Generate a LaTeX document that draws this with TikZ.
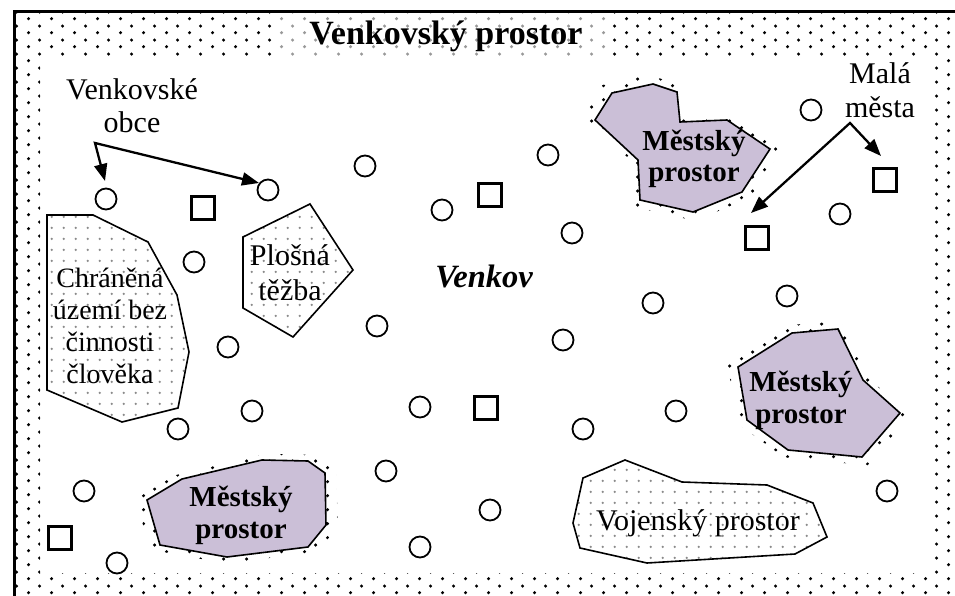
\documentclass[tikz,border=0pt]{standalone}
\usepackage{fontspec}
\setmainfont{Liberation Serif}
\usetikzlibrary{patterns,arrows.meta}
\definecolor{lav}{HTML}{CBBFD7}
\definecolor{dotgray}{HTML}{8A8A8A}
\pgfdeclarepatternformonly{banddots}{\pgfpointorigin}{\pgfpoint{23pt}{13.6pt}}{\pgfpoint{23pt}{13.6pt}}{%
 \pgfpathcircle{\pgfpoint{5.75pt}{3.4pt}}{1.75pt}%
 \pgfpathcircle{\pgfpoint{17.25pt}{10.2pt}}{1.75pt}%
 \pgfusepath{fill}}
\pgfdeclarepatternformonly{finedots}{\pgfpointorigin}{\pgfpoint{11.7pt}{11pt}}{\pgfpoint{11.7pt}{11pt}}{%
 \pgfpathcircle{\pgfpoint{5.85pt}{5.5pt}}{1.3pt}\pgfusepath{fill}}
\tikzset{
 village/.style={circle, draw, line width=1.8pt, minimum size=21pt, inner sep=0pt},
 town/.style={rectangle, draw, line width=2.4pt, minimum size=23pt, inner sep=0pt},
 natarea/.style={draw, line width=1.6pt, line join=miter, pattern=finedots, pattern color=dotgray},
 urban/.style={draw, line width=1.6pt, line join=miter, fill=lav},
 halo/.style={pattern=banddots, pattern color=black},
 ptr/.style={line width=2.3pt, line join=miter, {Triangle[length=17pt,width=13pt]}-{Triangle[length=17pt,width=13pt]}},
 txt/.style={font=\fontsize{30}{33}\selectfont, align=center, inner sep=0pt, anchor=base},
 urbtxt/.style={font=\fontsize{29}{31.5}\selectfont\bfseries, align=center, inner sep=0pt, anchor=base},
}
\begin{document}
\begin{tikzpicture}[x=1pt,y=-1pt]
\useasboundingbox (0,0) rectangle (955,596);
\fill[white] (0,0) rectangle (955,596);
% dotted border band
\fill[pattern=banddots, even odd rule] (14,11) rectangle (955,596) (40,58) rectangle (932,573);
\fill[white, opacity=0.6] (278,13) rectangle (608,57);
\draw[line width=3pt] (14.5,596) -- (14.5,11.5) -- (955,11.5);
\node[inner sep=0pt, anchor=base, font=\fontsize{34}{36}\selectfont\bfseries] (title) at (446,45) {Venkovský prostor};

% natural areas
\draw[natarea] (47,215) -- (93,215) -- (148,242) -- (177,295) -- (189,352) -- (178,408) -- (122,422) -- (47,390) -- cycle;
\draw[natarea] (243,237) -- (310,204) -- (353,270) -- (293,337) -- (243,308) -- cycle;
\draw[natarea] (583,478) -- (625,460) -- (682,482) -- (767,485) -- (813,503) -- (827,537) -- (795,554) -- (647,563) -- (580,548) -- (573,523) -- cycle;

% urban areas with halo
\fill[halo, scale around={1.14:(682,150)}] (595,120) -- (612,93) -- (653,84) -- (677,92) -- (680,122) -- (727,120) -- (770,149) -- (742,192) -- (693,212) -- (640,200) -- (638,160) -- cycle;
\draw[urban] (595,120) -- (612,93) -- (653,84) -- (677,92) -- (680,122) -- (727,120) -- (770,149) -- (742,192) -- (693,212) -- (640,200) -- (638,160) -- cycle;
\fill[halo, scale around={1.13:(819,393)}] (738,367) -- (792,333) -- (838,329) -- (863,380) -- (900,413) -- (862,457) -- (788,450) -- (747,420) -- cycle;
\draw[urban] (738,367) -- (792,333) -- (838,329) -- (863,380) -- (900,413) -- (862,457) -- (788,450) -- (747,420) -- cycle;
\fill[halo, scale around={1.13:(236,508)}] (147,500) -- (182,479) -- (262,460) -- (308,461) -- (325,473) -- (326,525) -- (308,547) -- (227,557) -- (160,545) -- cycle;
\draw[urban] (147,500) -- (182,479) -- (262,460) -- (308,461) -- (325,473) -- (326,525) -- (308,547) -- (227,557) -- (160,545) -- cycle;

% labels (base anchor = baseline of the last line)
\node[txt] (obce) at (132,133) {Venkovské\\obce};
\node[txt, font=\fontsize{30}{34}\selectfont] (mesta) at (880,118) {Malá\\města};
\node[txt, font=\fontsize{28}{31.7}\selectfont] (chr) at (110,383) {Chráněná\\území bez\\činnosti\\člověka};
\node[txt, font=\fontsize{30}{35}\selectfont] (tezba) at (290,300) {Plošná\\těžba};
\node[txt] (voj) at (698,530) {Vojenský prostor};
\node[inner sep=0pt, anchor=base, font=\fontsize{32.5}{35}\selectfont\bfseries\itshape] (venkov) at (484,287) {Venkov};
\node[urbtxt] (m1) at (694,182) {Městský\\prostor};
\node[urbtxt] (m2) at (801,423) {Městský\\prostor};
\node[urbtxt] (m3) at (241,538) {Městský\\prostor};

% villages
\foreach \n/\x/\y in {1/106/199, 2/268/190, 3/365/166, 4/442/210, 5/548/155, 6/572/233, 7/194/262, 8/377/326, 9/228/347, 10/653/303, 11/252/411, 12/420/407, 13/178/429, 14/583/429, 15/676/411, 16/787/296, 17/811/110, 18/840/214, 19/386/471, 20/490/510, 21/84/491, 22/117/563, 23/420/547, 24/887/491, 25/563/340}
  \node[village] (v\n) at (\x,\y) {};

% small towns
\foreach \n/\x/\y in {1/203/208, 2/490/195, 3/757/238, 4/885/180, 5/486/408, 6/60/538}
  \node[town] (t\n) at (\x,\y) {};

% pointers
\coordinate (vo) at (95,143);
\coordinate (vt1) at (105,181);
\coordinate (vt2) at (259,183);
\draw[ptr] (vt1) -- (vo) -- (vt2);
\coordinate (mm) at (850,123);
\coordinate (mt1) at (881,156);
\coordinate (mt2) at (751,213);
\draw[ptr] (mt1) -- (mm) -- (mt2);
\end{tikzpicture}
\end{document}
